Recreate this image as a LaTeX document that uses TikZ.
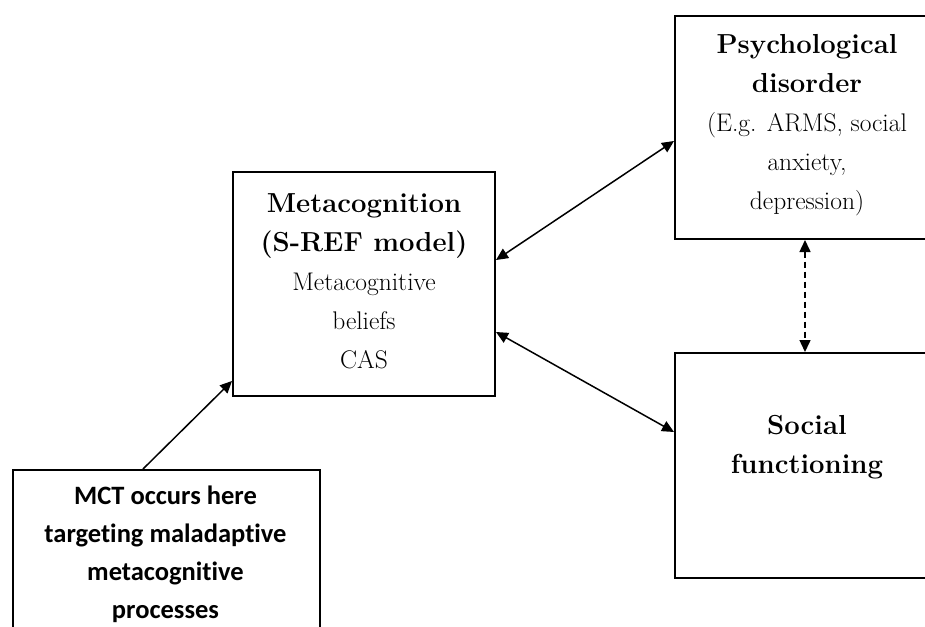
\documentclass[tikz,border=0pt]{standalone}
\usepackage{fontspec}
\newfontfamily\calibrifont[RawFeature={-liga}]{Carlito}
\usetikzlibrary{arrows.meta}
\newcommand{\hd}[1]{{\fontsize{27.5}{39}\selectfont\bfseries #1}}
\begin{document}
\begin{tikzpicture}[x=1pt,y=-1pt,
  box/.style={draw=black, line width=2pt, rectangle, inner sep=0pt},
  txt/.style={align=center, inner sep=0pt, font=\fontsize{25.5}{39}\selectfont},
  link/.style={line width=1.5pt, {Triangle[length=12pt,width=11pt]}-{Triangle[length=12pt,width=11pt]}},
  feed/.style={line width=1.5pt, -{Triangle[length=12pt,width=11pt]}}]
\useasboundingbox (0,0) rectangle (925,626);
\clip (0,0) rectangle (925,626);

% boxes
\node[box, minimum width=262pt, minimum height=224pt] (meta) at (364,284) {};
\node[box, minimum width=264pt, minimum height=223pt] (psych) at (807,127.5) {};
\node[box, minimum width=264pt, minimum height=225pt] (social) at (807,465.5) {};
\node[box, minimum width=307pt, minimum height=223pt, anchor=north west] (mct) at (12,469) {};

% box texts
\node[txt] (metatext) at (364,281)
  {\hd{Metacognition}\\\hd{(S-REF model)}\\Metacognitive\\beliefs\\CAS};
\node[txt] (psychtext) at (807,125)
  {\hd{Psychological}\\\hd{disorder}\\(E.g. ARMS, social\\anxiety,\\depression)};
\node[txt] (socialtext) at (807,447) {\hd{Social}\\\hd{functioning}};
\node[txt, anchor=north, font=\calibrifont\bfseries\fontsize{26.5}{38}\selectfont]
  (mcttext) at (165.5,486) {MCT occurs here\\targeting maladaptive\\metacognitive\\processes};

% connectors
\draw[feed] ([xshift=131pt]mct.north west) -- ([yshift=16pt]meta.south west);
\draw[link] ([yshift=24pt]meta.east) -- ([yshift=-13.5pt]psych.west);
\draw[link] ([yshift=-48pt]meta.east) -- ([yshift=33.5pt]social.west);
\draw[link, dashed, dash pattern=on 6pt off 4pt] ([xshift=-2pt]psych.south) -- ([xshift=-2pt]social.north);
\end{tikzpicture}
\end{document}
